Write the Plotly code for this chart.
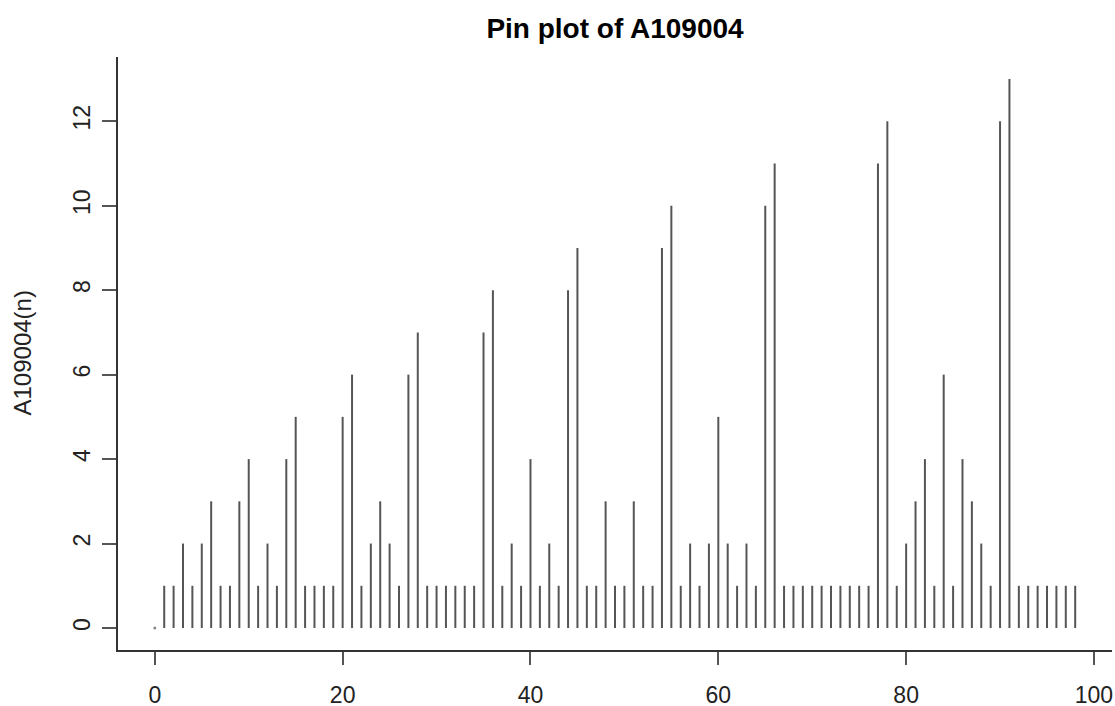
import plotly.graph_objects as go

# A109004: gcd(n,k) table read by antidiagonals, n = 0..98
n_values = list(range(99))
a_values = [0,
            1, 1,
            2, 1, 2,
            3, 1, 1, 3,
            4, 1, 2, 1, 4,
            5, 1, 1, 1, 1, 5,
            6, 1, 2, 3, 2, 1, 6,
            7, 1, 1, 1, 1, 1, 1, 7,
            8, 1, 2, 1, 4, 1, 2, 1, 8,
            9, 1, 1, 3, 1, 1, 3, 1, 1, 9,
            10, 1, 2, 1, 2, 5, 2, 1, 2, 1, 10,
            11, 1, 1, 1, 1, 1, 1, 1, 1, 1, 1, 11,
            12, 1, 2, 3, 4, 1, 6, 1, 4, 3, 2, 1, 12,
            13, 1, 1, 1, 1, 1, 1, 1]
x_ticks = [0, 20, 40, 60, 80, 100]
y_ticks = [0, 2, 4, 6, 8, 10, 12]

title_text = "Pin plot of A109004"
y_label = "A109004(n)"

xs, ys = [], []
for n, v in zip(n_values, a_values):
    xs += [n, n, None]
    ys += [0, v, None]

FONT = "Liberation Sans, Arial, Helvetica, sans-serif"

fig = go.Figure()
fig.add_trace(go.Scatter(x=xs, y=ys, mode="lines",
                         line=dict(color="#555555", width=2),
                         hoverinfo="skip", showlegend=False))
zx = [n for n, v in zip(n_values, a_values) if v == 0]
zy = [v for v in a_values if v == 0]
fig.add_trace(go.Scatter(x=zx, y=zy, mode="markers",
                         marker=dict(color="#888888", size=3),
                         showlegend=False))

xmin, xmax = min(n_values), max(n_values)
ymin, ymax = 0, max(a_values)
dx = (xmax - xmin) * 0.04
dy = (ymax - ymin) * 0.04

fig.update_layout(
    width=1115, height=706,
    margin=dict(l=118, r=3, t=57, b=56, autoexpand=False),
    paper_bgcolor="white", plot_bgcolor="white",
    font=dict(family=FONT, size=21, color="black"),
    title=dict(text="<b>" + title_text + "</b>", x=0.5, xref="paper",
               y=1 - 28 / 706, yref="container", yanchor="middle",
               xanchor="center", font=dict(size=28, family=FONT, color="black")),
    xaxis=dict(range=[xmin - dx, xmax + dx], tickvals=x_ticks,
               automargin=False,
               showgrid=False, zeroline=False, showline=True,
               linecolor="#333333", linewidth=2,
               ticks="outside", ticklen=13, tickwidth=2, tickcolor="#555555",
               ticklabelstandoff=10, tickfont=dict(size=23, color="#222222")),
    yaxis=dict(range=[ymin - dy, ymax + dy], tickvals=y_ticks,
               automargin=False,
               showgrid=False, zeroline=False, showline=True,
               linecolor="#333333", linewidth=2,
               ticks="outside", ticklen=14, tickwidth=2, tickcolor="#555555",
               tickangle=-90, ticklabelstandoff=3,
               tickfont=dict(size=23, color="#222222")),
    annotations=[dict(text=y_label, xref="paper", yref="paper",
                      x=(22 - 118) / 994, y=(650 - 353) / 594, textangle=-90,
                      showarrow=False, xanchor="center", yanchor="middle",
                      font=dict(size=24, family=FONT, color="#222222"))],
)

fig.write_html("out.html", config={"displayModeBar": False},
               post_script="document.body.style.margin='0';document.body.style.overflow='hidden';")
